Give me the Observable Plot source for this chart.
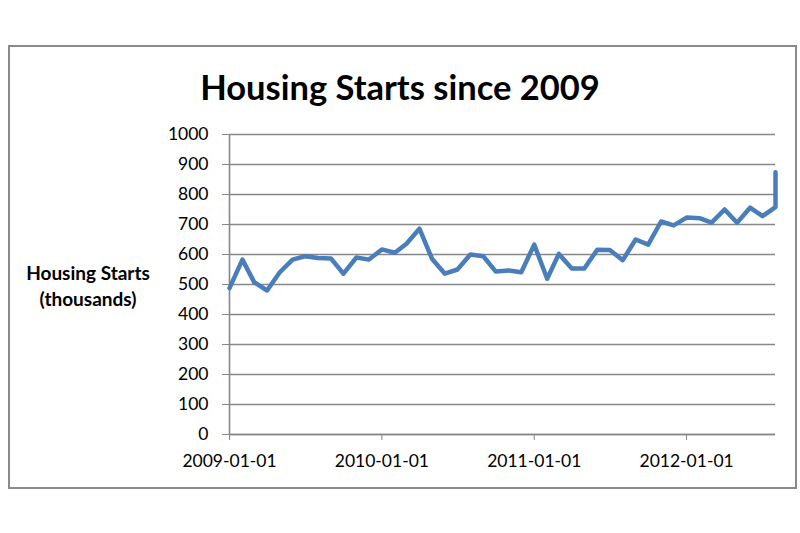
<!DOCTYPE html>
<html><head><meta charset="utf-8">
<script src="https://cdn.jsdelivr.net/npm/d3@7"></script>
<script src="https://cdn.jsdelivr.net/npm/@observablehq/plot@0.6"></script>
<style>
body{margin:0;background:#fff;}
#wrap{position:relative;width:800px;height:533px;font-family:Lato,"Open Sans",sans-serif;color:#000;}
#frame{position:absolute;left:8px;top:45px;width:785px;height:440px;border:2px solid #8a8a8a;}
#title{position:absolute;left:0;width:800px;top:67px;text-align:center;font-weight:bold;font-size:34.5px;line-height:40px;}
#ylab{position:absolute;left:18px;width:140px;top:260px;text-align:center;font-weight:bold;font-size:19px;line-height:26px;}
#chart{position:absolute;left:0;top:0;}
</style>
</head><body>
<div id="wrap">
  <div id="frame"></div>
  <div id="title">Housing Starts since 2009</div>
  <div id="ylab">Housing Starts<br>(thousands)</div>
  <div id="chart"></div>
</div>
<script>
// Monthly housing starts (thousands), 2009-01 .. 2012-08, final value plotted at the same month
const months = [
  "2009-01-01","2009-02-01","2009-03-01","2009-04-01","2009-05-01","2009-06-01",
  "2009-07-01","2009-08-01","2009-09-01","2009-10-01","2009-11-01","2009-12-01",
  "2010-01-01","2010-02-01","2010-03-01","2010-04-01","2010-05-01","2010-06-01",
  "2010-07-01","2010-08-01","2010-09-01","2010-10-01","2010-11-01","2010-12-01",
  "2011-01-01","2011-02-01","2011-03-01","2011-04-01","2011-05-01","2011-06-01",
  "2011-07-01","2011-08-01","2011-09-01","2011-10-01","2011-11-01","2011-12-01",
  "2012-01-01","2012-02-01","2012-03-01","2012-04-01","2012-05-01","2012-06-01",
  "2012-07-01","2012-08-01","2012-08-01"
];
const starts = [
  488, 583, 508, 480, 540, 583, 594, 588, 587, 536, 590, 583,
  617, 606, 636, 686, 586, 536, 550, 600, 594, 543, 547, 541,
  633, 519, 602, 553, 553, 616, 615, 581, 650, 633, 710, 697,
  723, 721, 706, 750, 706, 756, 728, 758, 874
];
const yTicks = [0,100,200,300,400,500,600,700,800,900,1000];
const xTicks = ["2009-01-01","2010-01-01","2011-01-01","2012-01-01"];

const parse = d3.utcParse("%Y-%m-%d");
const data = months.map((m, i) => ({date: parse(m), value: starts[i]}));
const xDomain = [parse(months[0]), parse(months[months.length - 1])];

const chart = Plot.plot({
  width: 800,
  height: 533,
  marginLeft: 229,
  marginRight: 25,
  marginTop: 134,
  marginBottom: 99,
  style: {fontFamily: "Lato, 'Open Sans', sans-serif", fontSize: "17.5px", color: "#000", background: "transparent"},
  x: {type: "utc", domain: xDomain},
  y: {domain: [0, 1000]},
  marks: [
    Plot.gridY(yTicks, {stroke: "#878787", strokeOpacity: 1, strokeWidth: 1.6}),
    Plot.ruleX([xDomain[0]], {stroke: "#878787", strokeWidth: 1.6}),
    Plot.ruleY([0], {stroke: "#878787", strokeWidth: 1.6}),
    Plot.axisY(yTicks, {tickSize: 7, tickPadding: 14, label: null, stroke: "#878787", fontSize: 17.5, tickFormat: d3.format("d")}),
    Plot.axisX(xTicks.map(parse), {tickFormat: d3.utcFormat("%Y-%m-%d"), tickSize: 6, tickPadding: 14, label: null, stroke: "#878787", fontSize: 17.5}),
    Plot.line(data, {x: "date", y: "value", stroke: "#4a7ebb", strokeWidth: 4.5, strokeLinejoin: "round", strokeLinecap: "round"})
  ]
});
document.getElementById("chart").appendChild(chart);
</script>
</body></html>
